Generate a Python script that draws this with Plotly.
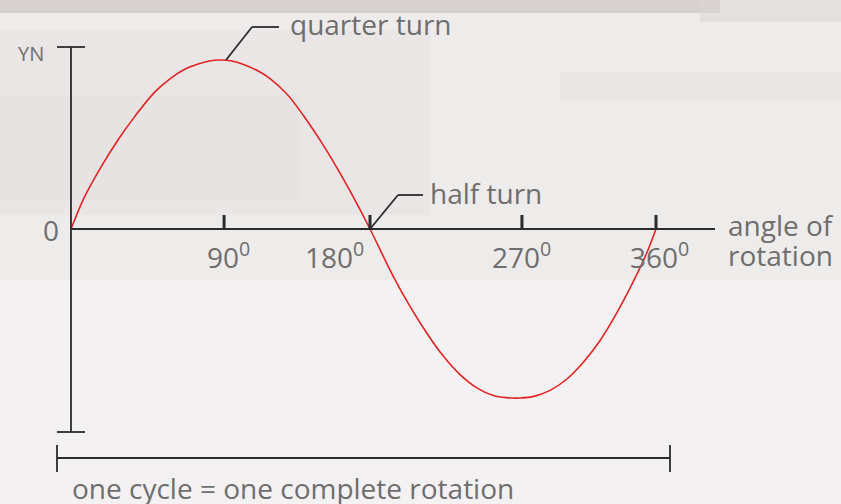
import plotly.graph_objects as go

# ───────────────────────────────────────────────────────────────
# DATA
# ───────────────────────────────────────────────────────────────

# angle of rotation (deg, as drawn) and induced value (peak = 1)
angle = [0, 8.4, 18.6, 28.9, 39.2, 51.5, 61.5, 70.0, 78.2, 85.0, 92.0, 99.0,
         105.8, 116.3, 122.5, 132.7, 143.0, 153.2, 163.5, 173.7, 184.0, 198.3,
         208.6, 218.9, 229.1, 239.4, 249.7, 259.9, 268.0, 276.3, 284.3, 294.8,
         305.0, 315.3, 325.5, 335.8, 346.0, 354.3, 360.0]
value = [0, 0.191, 0.369, 0.527, 0.665, 0.810, 0.893, 0.945, 0.976, 0.994, 1.0, 0.994,
         0.975, 0.929, 0.890, 0.800, 0.672, 0.527, 0.365, 0.190, 0.0, -0.280,
         -0.458, -0.615, -0.752, -0.862, -0.940, -0.985, -0.998, -1.0, -0.992, -0.955,
         -0.889, -0.788, -0.661, -0.498, -0.312, -0.142, 0.0]

tick_angles = [94.2, 184.0, 277.5, 360.0]
tick_labels = ["90<sup>0</sup>", "180<sup>0</sup>", "270<sup>0</sup>", "360<sup>0</sup>"]
tick_label_left_px = [207, 305, 492, 630]

# ───────────────────────────────────────────────────────────────
# PIXEL -> DATA HELPERS (for placing decorations)
# ───────────────────────────────────────────────────────────────

W, H = 841, 504
X0_PX, PX_PER_DEG = 71, 1.625
Y0_PX, PX_PER_UNIT = 229, 169


def dx(px):
    return (px - X0_PX) / PX_PER_DEG


def dy(py):
    return (Y0_PX - py) / PX_PER_UNIT


TEXT = "#6e6e6e"
INK = "#2b2b2b"
FONT = "Open Sans"

fig = go.Figure()

fig.add_trace(go.Scatter(
    x=angle, y=value, mode="lines",
    line=dict(color="#e42222", width=1.6, shape="spline", smoothing=1.0),
    hoverinfo="skip", showlegend=False
))

shapes = []

# background texture bands (paper coords, pixel based)
def band(x0, y0, x1, y1, color):
    shapes.append(dict(type="rect", xref="paper", yref="paper", layer="below",
                       x0=x0 / W, x1=x1 / W, y0=1 - y1 / H, y1=1 - y0 / H,
                       line=dict(width=0), fillcolor=color))

band(0, 0, 841, 280, "rgba(232,228,228,0.45)")
band(0, 0, 720, 13, "rgba(205,196,196,0.7)")
band(700, 0, 841, 22, "rgba(220,213,213,0.5)")
band(0, 30, 430, 215, "rgba(222,216,216,0.22)")
band(0, 95, 300, 200, "rgba(220,214,214,0.18)")
band(560, 72, 841, 100, "rgba(225,219,219,0.3)")


def seg(x0, y0, x1, y1, width=1.8):
    shapes.append(dict(type="line", xref="x", yref="y", x0=x0, y0=y0, x1=x1, y1=y1,
                       line=dict(color=INK, width=width)))


# vertical axis with caps
seg(0, dy(47), 0, dy(432))
seg(dx(57), dy(47), dx(85), dy(47))
seg(dx(57), dy(432), dx(85), dy(432))
# horizontal axis
seg(0, 0, dx(715), 0)
# ticks
for t in tick_angles:
    seg(t, 0, t, dy(215), width=3)
# one cycle bracket
seg(dx(57), dy(458), dx(670), dy(458))
seg(dx(57), dy(445), dx(57), dy(472))
seg(dx(670), dy(445), dx(670), dy(472))
# leader lines
seg(dx(226), dy(60), dx(252), dy(27))
seg(dx(252), dy(27), dx(279), dy(27))
seg(dx(370), dy(229), dx(398), dy(195))
seg(dx(398), dy(195), dx(423), dy(195))

fig.update_layout(shapes=shapes)


def label(text, px, py, size=28, anchor="left"):
    fig.add_annotation(x=dx(px), y=dy(py), xref="x", yref="y", text=text,
                       showarrow=False, xanchor=anchor, yanchor="middle",
                       font=dict(family=FONT, size=size, color=TEXT))


label("quarter turn", 288, 24)
label("half turn", 428, 193)
label("angle of", 726, 225)
label("rotation", 726, 255)
label("one cycle = one complete rotation", 70, 488)
label("0", 61, 230, anchor="right")
label("YN", 16, 53, size=20)
for lab, px in zip(tick_labels, tick_label_left_px):
    label(lab, px - 2, 255)

fig.update_layout(
    width=W, height=H,
    margin=dict(l=0, r=0, t=0, b=0),
    paper_bgcolor="#f3f1f1", plot_bgcolor="rgba(0,0,0,0)",
    xaxis=dict(visible=False, range=[dx(0), dx(W)], fixedrange=True),
    yaxis=dict(visible=False, range=[dy(H), dy(0)], fixedrange=True),
    showlegend=False
)

fig.write_html("out.html", config={"displayModeBar": False},
               post_script="document.body.style.margin='0';")
